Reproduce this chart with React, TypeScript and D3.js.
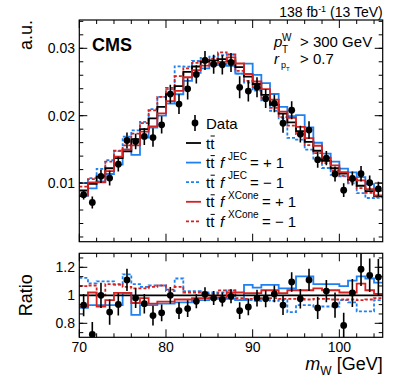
import React from 'react';
import * as d3 from 'd3';

// 1 GeV bins, 70-105 GeV
const binLow = d3.range(70, 105);

// nominal ttbar (a.u.)
const nominal = [
  0.0089, 0.0099, 0.011, 0.0122, 0.0137, 0.0147, 0.0165, 0.018, 0.0196, 0.0213,
  0.0232, 0.0244, 0.0265, 0.0273, 0.028, 0.0282, 0.0284, 0.0281, 0.0272, 0.0258,
  0.0247, 0.0231, 0.0216, 0.0203, 0.019, 0.0177, 0.0161, 0.0148, 0.0133, 0.0122,
  0.0114, 0.0105, 0.0096, 0.0088, 0.0081,
];

// ratios to nominal
const dataRatio = [
  0.93, 0.72, 1.0, 0.88, 0.935, 1.11, 0.98, 0.94, 0.855, 0.875,
  1.0, 0.89, 0.905, 0.957, 1.007, 0.98, 0.97, 0.993, 0.89, 0.917,
  0.98, 0.975, 1.01, 0.93, 1.095, 0.975, 1.11, 0.91, 1.03, 0.93,
  0.785, 1.017, 1.186, 1.143, 1.13,
];
const dataErr = [
  0.08, 0.09, 0.09, 0.09, 0.08, 0.08, 0.07, 0.07, 0.07, 0.06,
  0.06, 0.06, 0.06, 0.05, 0.05, 0.05, 0.05, 0.05, 0.06, 0.06,
  0.06, 0.06, 0.06, 0.07, 0.07, 0.07, 0.08, 0.08, 0.08, 0.09,
  0.09, 0.1, 0.12, 0.12, 0.13,
];
const jecUp = [
  0.91, 0.93, 0.93, 0.93, 0.93, 1.017, 0.86, 0.93, 0.93, 0.94,
  0.94, 0.95, 0.95, 0.965, 0.965, 0.975, 0.975, 0.975, 0.965, 1.075,
  1.055, 1.075, 1.075, 1.05, 1.05, 1.135, 1.135, 1.08, 1.08, 1.08,
  1.065, 1.105, 1.135, 1.12, 1.09,
];
const jecDown = [
  1.125, 1.085, 1.1, 1.1, 1.075, 1.15, 1.08, 1.06, 1.07, 1.07,
  1.03, 1.12, 1.03, 1.03, 1.02, 1.02, 1.02, 1.035, 0.965, 0.965,
  0.96, 0.965, 0.96, 0.965, 0.88, 0.93, 0.93, 0.92, 0.92, 0.92,
  0.965, 0.95, 0.885, 0.885, 0.965,
];
const xconeUp = [
  0.917, 1.02, 0.92, 0.965, 1.017, 1.017, 0.945, 0.98, 0.94, 0.955,
  0.955, 0.97, 0.97, 0.98, 0.98, 0.985, 0.985, 1.02, 1.02, 1.015,
  1.015, 1.036, 1.036, 1.015, 1.036, 1.036, 1.036, 1.05, 1.036, 1.036,
  1.02, 1.02, 1.083, 1.036, 1.01,
];
const xconeDown = [
  1.065, 1.07, 1.0, 1.08, 1.08, 1.06, 1.05, 1.05, 1.06, 1.07,
  1.04, 1.06, 1.02, 1.02, 1.01, 1.01, 1.035, 1.035, 0.98, 0.975,
  0.975, 0.98, 0.98, 0.975, 0.975, 0.975, 0.97, 0.975, 0.975, 0.97,
  0.97, 0.97, 0.965, 0.97, 0.98,
];

const yTopTicks = [0.01, 0.02, 0.03];
const yRatioTicks = [0.8, 1, 1.2];
const xTicks = [70, 80, 90, 100];

const BLUE = '#1f80f0';
const RED = '#d42222';
const FONT = 'Liberation Sans, Arial, Helvetica, sans-serif';

const W = 407;
const H = 383;
const L = 79.3;
const R = 382.7;
const topT = 20;
const topB = 241.7;
const ratT = 253.3;
const ratB = 337.3;

const x = d3.scaleLinear().domain([70, 105]).range([L, R]);
const yTop = d3.scaleLinear().domain([0.0013, 0.0342]).range([topB, topT]);
const yRat = d3.scaleLinear().domain([0.7, 1.3]).range([ratB, ratT]);

const series = [
  { key: 'jecDown', ratio: jecDown, color: BLUE, dash: '3,2' },
  { key: 'jecUp', ratio: jecUp, color: BLUE, dash: null },
  { key: 'xconeDown', ratio: xconeDown, color: RED, dash: '3,2' },
  { key: 'nominal', ratio: nominal.map(() => 1), color: '#000', dash: null },
  { key: 'xconeUp', ratio: xconeUp, color: RED, dash: null },
];

function stepPath(vals: number[], y: d3.ScaleLinear<number, number>) {
  const pts: [number, number][] = binLow.map((b, i) => [b, vals[i]]);
  pts.push([105, vals[vals.length - 1]]);
  return d3.line<[number, number]>()
    .x((d) => x(d[0]))
    .y((d) => y(d[1]))
    .curve(d3.curveStepAfter)(pts) as string;
}

function tickPath(y: d3.ScaleLinear<number, number>, yMinor: number[], yMajor: number[], t: number, b: number) {
  let d = '';
  const xMinor = d3.range(70, 105.01, 2);
  xMinor.forEach((v) => {
    const len = v % 10 === 0 ? 8 : 4;
    d += `M${x(v)},${b}v${-len}M${x(v)},${t}v${len}`;
  });
  yMinor.forEach((v) => {
    d += `M${L},${y(v)}h4M${R},${y(v)}h-4`;
  });
  yMajor.forEach((v) => {
    d += `M${L},${y(v)}h8M${R},${y(v)}h-8`;
  });
  return d;
}

const legendRows = [
  { color: '#000', dash: null, sup: null, val: null },
  { color: BLUE, dash: null, sup: 'JEC', val: '= + 1' },
  { color: BLUE, dash: '3,2', sup: 'JEC', val: '= \u2212 1' },
  { color: RED, dash: null, sup: 'XCone', val: '= + 1' },
  { color: RED, dash: '3,2', sup: 'XCone', val: '= \u2212 1' },
];

function TTbar({ x0, y0 }: { x0: number; y0: number }) {
  return (
    <g>
      <text x={x0} y={y0} fontSize={15}>tt</text>
      <line x1={x0 + 4.6} x2={x0 + 8.8} y1={y0 - 12.5} y2={y0 - 12.5} stroke="#000" strokeWidth={1} />
    </g>
  );
}

export default function App() {
  const topMinor = d3.range(0.002, 0.0342, 0.002);
  const ratMinor = d3.range(-1, 8).map((i) => 0.8 + (i * 0.2) / 3);
  return (
    <svg width={W} height={H} style={{ position: 'absolute', left: 0, top: 0, background: '#fff' }} fontFamily={FONT}>
      <defs>
        <clipPath id="clipTop"><rect x={L} y={topT} width={R - L} height={topB - topT} /></clipPath>
        <clipPath id="clipRat"><rect x={L} y={ratT} width={R - L} height={ratB - ratT} /></clipPath>
      </defs>
      <rect width={W} height={H} fill="#fff" />

      {/* upper panel */}
      <g clipPath="url(#clipTop)">
        {series.map((s) => (
          <path key={s.key} d={stepPath(nominal.map((n, i) => n * s.ratio[i]), yTop)} fill="none"
            stroke={s.color} strokeWidth={1.8} strokeDasharray={s.dash || undefined} />
        ))}
        {binLow.map((b, i) => {
          const v = nominal[i] * dataRatio[i];
          const e = nominal[i] * dataErr[i];
          return (
            <g key={b}>
              <line x1={x(b + 0.5)} x2={x(b + 0.5)} y1={yTop(v - e)} y2={yTop(v + e)} stroke="#000" strokeWidth={1.6} />
              <circle cx={x(b + 0.5)} cy={yTop(v)} r={3.4} fill="#000" />
            </g>
          );
        })}
      </g>
      <rect x={L} y={topT} width={R - L} height={topB - topT} fill="none" stroke="#000" strokeWidth={1.2} />
      <path d={tickPath(yTop, topMinor, yTopTicks, topT, topB)} stroke="#000" strokeWidth={1} fill="none" />
      {yTopTicks.map((t) => (
        <text key={t} x={75} y={yTop(t)} dy="0.35em" textAnchor="end" fontSize={14}>{t.toFixed(2)}</text>
      ))}

      {/* ratio panel */}
      <g clipPath="url(#clipRat)">
        {series.map((s) => (
          <path key={s.key} d={stepPath(s.ratio, yRat)} fill="none"
            stroke={s.color} strokeWidth={1.8} strokeDasharray={s.dash || undefined} />
        ))}
        {binLow.map((b, i) => (
          <g key={b}>
            <line x1={x(b + 0.5)} x2={x(b + 0.5)} y1={yRat(dataRatio[i] - dataErr[i])} y2={yRat(dataRatio[i] + dataErr[i])} stroke="#000" strokeWidth={1.6} />
            <circle cx={x(b + 0.5)} cy={yRat(dataRatio[i])} r={3.4} fill="#000" />
          </g>
        ))}
      </g>
      <rect x={L} y={ratT} width={R - L} height={ratB - ratT} fill="none" stroke="#000" strokeWidth={1.2} />
      <path d={tickPath(yRat, ratMinor, yRatioTicks, ratT, ratB)} stroke="#000" strokeWidth={1} fill="none" />
      {yRatioTicks.map((t) => (
        <text key={t} x={75} y={yRat(t)} dy="0.35em" textAnchor="end" fontSize={14}>{String(t)}</text>
      ))}
      {xTicks.map((t) => (
        <text key={t} x={x(t)} y={352} textAnchor="middle" fontSize={14}>{t}</text>
      ))}

      {/* axis titles */}
      <text transform={`translate(32,${topT}) rotate(-90)`} textAnchor="end" fontSize={18}>a.u.</text>
      <text transform={`translate(32,${yRat(1)}) rotate(-90)`} textAnchor="middle" fontSize={18}>Ratio</text>
      <text x={R} y={370} textAnchor="end" fontSize={18}>
        <tspan fontStyle="italic">m</tspan>
        <tspan fontSize={12} dy={5}>W</tspan>
        <tspan dy={-5}> [GeV]</tspan>
      </text>

      {/* labels */}
      <text x={R} y={17} textAnchor="end" fontSize={14}>
        138 fb<tspan fontSize={9} dy={-5}>-1</tspan><tspan dy={5}> (13 TeV)</tspan>
      </text>
      <text x={92} y={51} fontSize={18} fontWeight="bold">CMS</text>
      <text x={274} y={47} fontSize={15} fontStyle="italic">p</text>
      <text x={282} y={41} fontSize={10}>W</text>
      <text x={282} y={53} fontSize={10}>T</text>
      <text x={300} y={47} fontSize={15}>&gt; 300 GeV</text>
      <text x={274} y={64} fontSize={15} fontStyle="italic">r</text>
      <text x={281} y={68} fontSize={9}>p</text>
      <text x={286} y={71} fontSize={6}>T</text>
      <text x={300} y={64} fontSize={15}>&gt; 0.7</text>

      {/* legend */}
      <line x1={195} x2={195} y1={115} y2={131} stroke="#000" strokeWidth={1.6} />
      <circle cx={195} cy={123} r={3.4} fill="#000" />
      <text x={206} y={128.5} fontSize={15}>Data</text>
      {legendRows.map((r, i) => {
        const cy = 143 + i * 19.6;
        return (
          <g key={i}>
            <line x1={186} x2={201} y1={cy} y2={cy} stroke={r.color} strokeWidth={1.8} strokeDasharray={r.dash || undefined} />
            <TTbar x0={206} y0={cy + 5.5} />
            {r.sup && (
              <>
                <text x={220} y={cy + 5.5} fontSize={15} fontStyle="italic">f</text>
                <text x={228} y={cy - 3} fontSize={10}>{r.sup}</text>
                <text x={r.sup === 'JEC' ? 250 : 262} y={cy + 5.5} fontSize={15} style={{ whiteSpace: 'pre' }}>{r.val}</text>
              </>
            )}
          </g>
        );
      })}
    </svg>
  );
}
